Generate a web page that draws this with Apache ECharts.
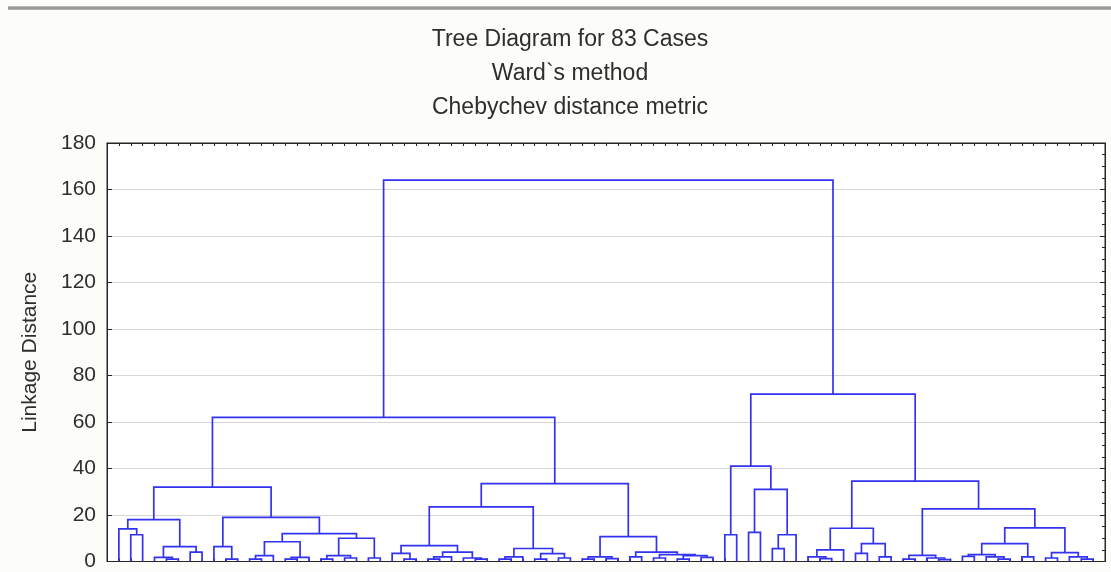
<!DOCTYPE html>
<html>
<head>
<meta charset="utf-8">
<script src="https://cdn.jsdelivr.net/npm/echarts@6/dist/echarts.min.js"></script>
<style>
html,body{margin:0;padding:0;background:#fcfcf8;}
#chart{width:1111px;height:572px;}
</style>
</head>
<body>
<div id="chart"></div>
<script>
// ---- data ----
const titleLines = ['Tree Diagram for 83 Cases', 'Ward`s method', 'Chebychev distance metric'];
const yAxisName = 'Linkage Distance';
const leafCount = 83;
// node = leaf index, or [left, right, linkageDistance]
const grpA = [[0, [1, 2, 11.5], 14], [[3, [4, 5, 1], 1.8], [6, 7, 4], 6.4], 18];
const grpB = [[8, [9, 10, 1], 6.4],
  [[[[11, 12, 1], 13, 2.5], [[14, 15, 1], 16, 1.8], 8.5],
   [[[17, 18, 1], [19, 20, 1.5], 2.5], [21, 22, 1.5], 10], 12], 19];
const grpC = [[[23, [24, 25, 1], 3.5], [[[26, 27, 1], 28, 2], [29, [30, 31, 1], 1.5], 4], 6.8],
  [[[32, 33, 1], 34, 2], [[35, 36, 1], [37, 38, 1.5], 3.4], 5.6], 23.5];
const grpD = [[[39, 40, 1], [41, 42, 1.2], 2],
  [[43, 44, 2], [[45, 46, 1.5], [[47, 48, 1], [49, 50, 1.8], 2.5], 3], 4], 10.7];
const grpE = [[51, 52, 11.5], [[53, 54, 12.5], [[55, 56, 5.5], 57, 11.5], 31], 41];
const grpF = [[[58, [59, 60, 1.2], 2], 61, 5], [[62, 63, 3.5], [64, 65, 2], 7.7], 14.3];
const grpG = [[[66, 67, 1], [68, [69, 70, 0.8], 1.5], 2.6],
  [[[[71, 72, 2.2], [73, [74, 75, 1], 2], 3], [76, 77, 2], 7.7],
   [[78, 79, 1.5], [80, [81, 82, 1], 2], 3.8], 14.5], 22.6];
const leftTree = [[grpA, grpB, 32], [grpC, grpD, 33.5], 62];
const rightTree = [grpE, [grpF, grpG, 34.6], 72];
const rootTree = [leftTree, rightTree, 164];

// ---- build segments from tree ----
const links = [];
function walk(node) {
  if (typeof node === 'number') return {x: node, h: 0};
  const l = walk(node[0]), r = walk(node[1]);
  links.push([l.x, l.h, r.x, r.h, node[2]]);
  return {x: (l.x + r.x) / 2, h: node[2]};
}
walk(rootTree);

const chart = echarts.init(document.getElementById('chart'));
const FONT = '"Liberation Sans", Arial, sans-serif';
const txtColor = '#2e2e2e';
const frame = '#262626';

chart.setOption({
  backgroundColor: '#fcfcf8',
  animation: false,
  graphic: [
    {type: 'rect', shape: {x: 8, y: 6, width: 1103, height: 4},
     style: {fill: new echarts.graphic.LinearGradient(0, 0, 0, 1, [
       {offset: 0, color: '#c8c8c8'}, {offset: 0.5, color: '#8c8c8c'}, {offset: 1, color: '#bdbdbd'}])}},
    ...titleLines.map((t, i) => ({
      type: 'text', x: 570, y: 40 + i * 34,
      style: {text: t, font: '23px ' + FONT, fill: txtColor, textAlign: 'center', textVerticalAlign: 'middle'}
    }))
  ],
  grid: {left: 107, right: 6, top: 143, bottom: 5, show: true, backgroundColor: '#ffffff', borderColor: frame, borderWidth: 1},
  xAxis: [
    {type: 'value', min: -1, max: leafCount, interval: 1, position: 'bottom',
     axisLine: {show: true, onZero: false, lineStyle: {color: frame}}, axisTick: {show: true, inside: true, length: 3, lineStyle: {color: frame}},
     axisLabel: {show: false}, splitLine: {show: false}},
    {type: 'value', min: -1, max: leafCount, interval: 1, position: 'top',
     axisLine: {show: true, onZero: false, lineStyle: {color: frame}}, axisTick: {show: true, inside: true, length: 3, lineStyle: {color: frame}},
     axisLabel: {show: false}, splitLine: {show: false}}
  ],
  yAxis: [
    {type: 'value', min: 0, max: 180, interval: 20, position: 'left',
     name: yAxisName, nameLocation: 'middle', nameRotate: 90, nameGap: 66,
     nameTextStyle: {fontFamily: FONT, fontSize: 21, color: txtColor},
     axisLine: {show: true, onZero: false, lineStyle: {color: frame}},
     axisTick: {show: true, inside: true, length: 5, lineStyle: {color: frame}},
     axisLabel: {fontFamily: FONT, fontSize: 21, color: txtColor, margin: 11},
     splitLine: {show: true, lineStyle: {color: '#d6d6d6', width: 1}}},
    {type: 'value', min: 0, max: 180, interval: 20, position: 'right',
     axisLine: {show: true, onZero: false, lineStyle: {color: frame}},
     axisTick: {show: true, inside: true, length: 5, lineStyle: {color: frame}},
     minorTick: {show: true, splitNumber: 4, length: 3, lineStyle: {color: frame}},
     axisLabel: {show: false}, splitLine: {show: false}}
  ],
  series: [{
    type: 'custom',
    xAxisIndex: 0, yAxisIndex: 0,
    clip: true,
    encode: {x: [0, 2], y: [1, 3, 4]},
    data: links,
    renderItem: function (params, api) {
      const xl = api.value(0), hl = api.value(1), xr = api.value(2), hr = api.value(3), h = api.value(4);
      const pts = [api.coord([xl, hl]), api.coord([xl, h]), api.coord([xr, h]), api.coord([xr, hr])];
      return {type: 'polyline', shape: {points: pts},
              style: {stroke: '#3232f0', lineWidth: 1.7, fill: null}};
    }
  }]
});
</script>
</body>
</html>
